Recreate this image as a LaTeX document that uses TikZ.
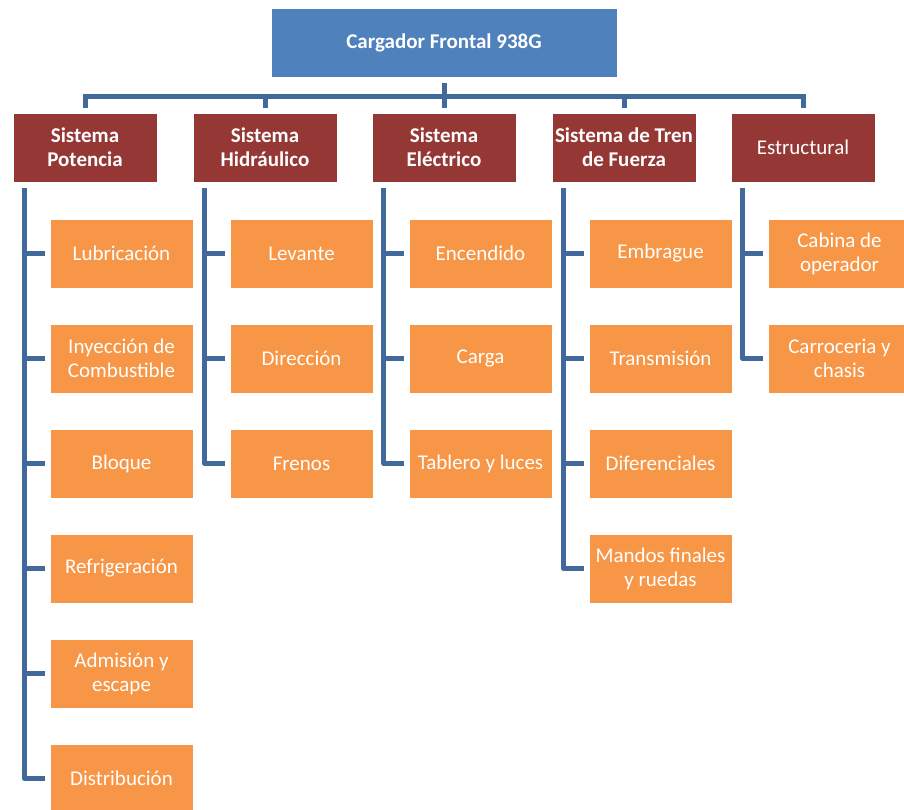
\documentclass[tikz,border=0pt]{standalone}
\usepackage{fontspec}
\setmainfont{Carlito}
\definecolor{topblue}{HTML}{4F81BD}
\definecolor{hdrred}{HTML}{953735}
\definecolor{kidor}{HTML}{F79646}
\definecolor{connblue}{HTML}{42699C}
\begin{document}
\begin{tikzpicture}[x=1pt,y=-1pt,
 base/.style={draw=white, line width=0.8pt, text=white, align=center, inner sep=0pt, font=\fontsize{21}{24}\selectfont, minimum height=69pt},
 topbox/.style={base, fill=topblue, minimum width=346pt, font=\bfseries\fontsize{21}{24}\selectfont},
 hdr/.style={base, fill=hdrred, minimum width=144pt, font=\bfseries\fontsize{21}{24}\selectfont},
 hdrplain/.style={base, fill=hdrred, minimum width=144pt},
 kid/.style={base, fill=kidor, minimum width=143pt},
 conn/.style={draw=connblue, line width=5pt, line join=round}]
\useasboundingbox (0,0) rectangle (904,809);
\node[topbox] (top) at (444,42.5) {Cargador Frontal 938G};
\node[hdr] (h1) at (85,147.5) {Sistema\\Potencia};
\node[hdr] (h2) at (265,147.5) {Sistema\\Hidráulico};
\node[hdr] (h3) at (444,147.5) {Sistema\\Eléctrico};
\node[hdr] (h4) at (624,147.5) {\makebox[144pt][c]{Sistema de Tren}\\de Fuerza};
\node[hdrplain] (h5) at (803,147.5) {Estructural};
% column 1
\node[kid] (a1) at (121.5,253.5) {Lubricación};
\node[kid] (a2) at (121.5,358.5) {Inyección de\\Combustible};
\node[kid] (a3) at (121.5,463.5) {Bloque};
\node[kid] (a4) at (121.5,568.5) {Refrigeración};
\node[kid] (a5) at (121.5,673.5) {Admisión y\\escape};
\node[kid] (a6) at (121.5,778.5) {Distribución};
% column 2
\node[kid] (b1) at (301.5,253.5) {Levante};
\node[kid] (b2) at (301.5,358.5) {Dirección};
\node[kid] (b3) at (301.5,463.5) {Frenos};
% column 3
\node[kid] (c1) at (480.5,253.5) {Encendido};
\node[kid] (c2) at (480.5,358.5) {Carga};
\node[kid] (c3) at (480.5,463.5) {Tablero y luces};
% column 4
\node[kid] (d1) at (660.5,253.5) {Embrague};
\node[kid] (d2) at (660.5,358.5) {Transmisión};
\node[kid] (d3) at (660.5,463.5) {Diferenciales};
\node[kid] (d4) at (660.5,568.5) {Mandos finales\\y ruedas};
% column 5
\node[kid] (e1) at (839.5,253.5) {Cabina de\\operador};
\node[kid] (e2) at (839.5,358.5) {Carroceria y\\chasis};
% top connectors
\coordinate (bar) at (0,96);
\draw[conn] ([yshift=-6pt]top.south) -- (top.south |- bar);
\draw[conn, line cap=rect] (h1.north |- bar) -- (h5.north |- bar);
\foreach \h in {h1,h2,h3,h4,h5}{
  \draw[conn] (\h.north |- bar) -- ([yshift=5pt]\h.north);
}
% column connectors
\draw[conn] ([xshift=12pt,yshift=-6pt]h1.south west) |- ([xshift=-5pt]a6.west);
\foreach \k in {a1,a2,a3,a4,a5}{\draw[conn] ([xshift=-5pt]\k.west) -- ([xshift=12pt]\k.west -| h1.south west);}
\draw[conn] ([xshift=12pt,yshift=-6pt]h2.south west) |- ([xshift=-5pt]b3.west);
\foreach \k in {b1,b2}{\draw[conn] ([xshift=-5pt]\k.west) -- ([xshift=12pt]\k.west -| h2.south west);}
\draw[conn] ([xshift=12pt,yshift=-6pt]h3.south west) |- ([xshift=-5pt]c3.west);
\foreach \k in {c1,c2}{\draw[conn] ([xshift=-5pt]\k.west) -- ([xshift=12pt]\k.west -| h3.south west);}
\draw[conn] ([xshift=12pt,yshift=-6pt]h4.south west) |- ([xshift=-5pt]d4.west);
\foreach \k in {d1,d2,d3}{\draw[conn] ([xshift=-5pt]\k.west) -- ([xshift=12pt]\k.west -| h4.south west);}
\draw[conn] ([xshift=12pt,yshift=-6pt]h5.south west) |- ([xshift=-5pt]e2.west);
\draw[conn] ([xshift=-5pt]e1.west) -- ([xshift=12pt]e1.west -| h5.south west);
\end{tikzpicture}
\end{document}
